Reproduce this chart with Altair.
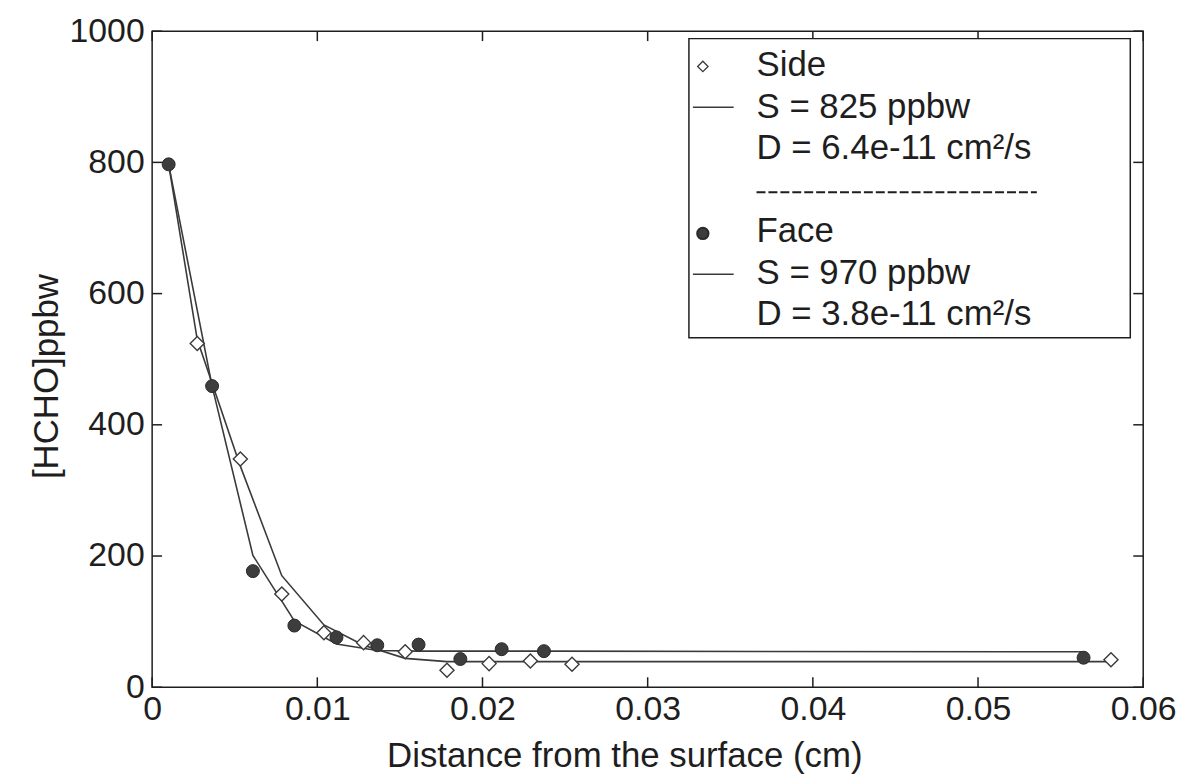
import altair as alt
import pandas as pd

# ---------------- data ----------------
side_x = [0.00273, 0.00534, 0.00785, 0.0104, 0.0128, 0.01532, 0.01785, 0.0204, 0.0229, 0.02542, 0.05805]
side_y = [524, 348, 142, 83, 68, 54, 26, 36, 40, 35, 42]

face_x = [0.0010, 0.00363, 0.0061, 0.00861, 0.01116, 0.01363, 0.01613, 0.01866, 0.02116, 0.02372, 0.05639]
face_y = [797, 459, 177, 94, 76, 64, 65, 43, 58, 55, 45]

side_fit_x = [0.0010, 0.00273, 0.00534, 0.00785, 0.0104, 0.0128, 0.01532, 0.01785, 0.0204, 0.0229, 0.02542, 0.05805]
side_fit_y = [797, 530, 337, 170, 95, 64, 44, 39, 39, 39, 39, 39]

face_fit_x = [0.0010, 0.00363, 0.0061, 0.00861, 0.01116, 0.01363, 0.01613, 0.01866, 0.02116, 0.02372, 0.05639]
face_fit_y = [797, 459, 201, 101, 66, 56, 55, 55, 55, 55, 54]

x_ticks = [0, 0.01, 0.02, 0.03, 0.04, 0.05, 0.06]
y_ticks = [0, 200, 400, 600, 800, 1000]

legend_side = ["Side", "S = 825 ppbw", "D = 6.4e-11 cm²/s"]
legend_face = ["Face", "S = 970 ppbw", "D = 3.8e-11 cm²/s"]

x_title = "Distance from the surface (cm)"
y_title = "[HCHO]ppbw"

# ---------------- styling ----------------
W, H = 997, 660
FONT = "Liberation Sans"
INK = "#1e1e1e"
LINE = "#3a3a3a"
TICK = 10

xs = alt.Scale(domain=[0, 0.06], nice=False, zero=False)
ys = alt.Scale(domain=[0, 1000], nice=False, zero=False)

X = alt.X("x:Q", scale=xs,
          axis=alt.Axis(values=x_ticks, format=".2~f", title=x_title,
                        labelPadding=5, titleX=475, titleY=80,
                        titleBaseline="alphabetic", labelFlush=False))
Y = alt.Y("y:Q", scale=ys,
          axis=alt.Axis(values=y_ticks, format="d", title=y_title, labelPadding=8,
                        titleX=-95, titleY=347, titleAngle=-90,
                        titleBaseline="alphabetic"))

side_df = pd.DataFrame({"x": side_x, "y": side_y})
face_df = pd.DataFrame({"x": face_x, "y": face_y})
side_fit = pd.DataFrame({"x": side_fit_x, "y": side_fit_y})
face_fit = pd.DataFrame({"x": face_fit_x, "y": face_fit_y})
xt_df = pd.DataFrame({"x": x_ticks})
yt_df = pd.DataFrame({"y": y_ticks})

side_line = alt.Chart(side_fit).mark_line(color=LINE, strokeWidth=1.6).encode(x=X, y=Y)
face_line = alt.Chart(face_fit).mark_line(color=LINE, strokeWidth=1.6).encode(x=X, y=Y)

side_pts = alt.Chart(side_df).mark_point(
    shape="diamond", size=200, filled=True, fill="white", stroke=LINE, strokeWidth=1.4, opacity=1
).encode(x=X, y=Y)
face_pts = alt.Chart(face_df).mark_point(
    shape="circle", size=170, filled=True, fill="#3d3d3d", stroke="#2a2a2a", strokeWidth=1, opacity=1
).encode(x=X, y=Y)

# inward ticks on all four sides
tick_b = alt.Chart(xt_df).mark_rule(color=INK, strokeWidth=1.5).encode(
    x=X, y=alt.value(H), y2=alt.value(H - TICK))
tick_t = alt.Chart(xt_df).mark_rule(color=INK, strokeWidth=1.5).encode(
    x=X, y=alt.value(0), y2=alt.value(TICK))
tick_l = alt.Chart(yt_df).mark_rule(color=INK, strokeWidth=1.5).encode(
    y=Y, x=alt.value(0), x2=alt.value(TICK))
tick_r = alt.Chart(yt_df).mark_rule(color=INK, strokeWidth=1.5).encode(
    y=Y, x=alt.value(W), x2=alt.value(W - TICK))

# ---------------- legend (drawn inside the plot, top right) ----------------
one = pd.DataFrame({"k": [0]})
LX0, LX1, LY0, LY1 = 540, 984, 7.5, 308.5
TX = 608
legend_box = alt.Chart(one).mark_rect(fill="white", stroke=INK, strokeWidth=1.5).encode(
    x=alt.value(LX0), x2=alt.value(LX1), y=alt.value(LY0), y2=alt.value(LY1))

legend_layers = [legend_box]
for lines, base in ((legend_side, 45.5), (legend_face, 212.5)):
    for i, t in enumerate(lines):
        legend_layers.append(
            alt.Chart(pd.DataFrame({"t": [t]})).mark_text(
                font=FONT, fontSize=35, color=INK, align="left", baseline="alphabetic"
            ).encode(x=alt.value(TX), y=alt.value(base + 41.5 * i), text="t:N")
        )

legend_layers.append(alt.Chart(one).mark_point(
    shape="diamond", size=110, filled=True, fill="white", stroke=LINE, strokeWidth=1.3, opacity=1
).encode(x=alt.value(554), y=alt.value(35.5)))
legend_layers.append(alt.Chart(one).mark_point(
    shape="circle", size=130, filled=True, fill="#3d3d3d", stroke="#2a2a2a", opacity=1
).encode(x=alt.value(554), y=alt.value(203.5)))
legend_layers.append(alt.Chart(one).mark_rule(color=LINE, strokeWidth=1.5).encode(
    x=alt.value(LX0 + 4), x2=alt.value(585), y=alt.value(76.5)))
legend_layers.append(alt.Chart(one).mark_rule(color=LINE, strokeWidth=1.5).encode(
    x=alt.value(LX0 + 4), x2=alt.value(585), y=alt.value(244.5)))
legend_layers.append(alt.Chart(one).mark_rule(color=INK, strokeWidth=2, strokeDash=[9, 3]).encode(
    x=alt.value(TX), x2=alt.value(890), y=alt.value(162)))

chart = alt.layer(
    side_line, face_line, side_pts, face_pts,
    tick_b, tick_t, tick_l, tick_r,
    *legend_layers
).properties(
    width=W, height=H,
    autosize=alt.AutoSizeParams(type="none"),
    padding={"left": 145, "top": 21, "right": 35, "bottom": 90},
    background="white",
).configure_view(
    stroke=INK, strokeWidth=1.5
).configure_axis(
    labelFont=FONT, labelFontSize=34, labelColor=INK,
    titleFont=FONT, titleFontSize=35, titleColor=INK, titleFontWeight="normal",
    ticks=False, domain=False, grid=False, labelOverlap=False
)

chart.save("out.html", embed_options={"renderer": "svg", "actions": False})
